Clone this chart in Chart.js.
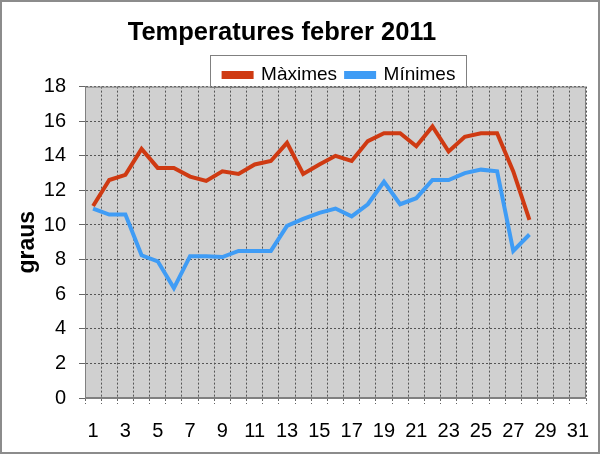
<!DOCTYPE html>
<html>
<head>
<meta charset="utf-8">
<script src="https://cdn.jsdelivr.net/npm/chart.js@4/dist/chart.umd.min.js"></script>
<style>
  body { margin: 0; background: #fff; }
  #wrap { width: 600px; height: 454px; }
</style>
</head>
<body>
<div id="wrap"><canvas id="temps"></canvas></div>
<script>
// dies del mes (eix X)
var dies = [];
for (var d = 1; d <= 31; d++) dies.push(String(d));

// temperatures llegides del gràfic
var maximes = [11.1, 12.6, 12.9, 14.4, 13.3, 13.3, 12.8, 12.55, 13.1, 12.95,
               13.5, 13.7, 14.75, 12.95, 13.5, 14.0, 13.7, 14.85, 15.3, 15.3,
               14.55, 15.7, 14.25, 15.1, 15.3, 15.3, 13.1, 10.3];
var minimes = [10.95, 10.6, 10.6, 8.25, 7.9, 6.35, 8.2, 8.2, 8.15, 8.5,
               8.5, 8.5, 9.95, 10.35, 10.7, 10.95, 10.5, 11.2, 12.5, 11.2,
               11.55, 12.6, 12.6, 13.0, 13.2, 13.1, 8.5, 9.45];

var yTicks = [0, 2, 4, 6, 8, 10, 12, 14, 16, 18];

var font = "'Liberation Sans', Arial, sans-serif";

// fons gris, marc del gràfic i caixa de la llegenda
var marcs = {
  id: 'marcs',
  afterLayout: function(chart) {
    var a = chart.chartArea;
    // títol una mica a l'esquerra, llegenda centrada sobre el gràfic
    var t = chart.titleBlock;
    var dt = (chart.width / 2 - 18) - (t.left + t.right) / 2;
    t.left += dt; t.right += dt;
    var lg = chart.legend;
    var dl = ((a.left + a.right) / 2 + 4) - (lg.left + lg.right) / 2;
    lg.left += dl; lg.right += dl;
    lg.top += 8; lg.bottom += 8;
  },
  beforeDraw: function(chart) {
    var c = chart.ctx, a = chart.chartArea;
    c.save();
    c.fillStyle = '#fff';
    c.fillRect(0, 0, chart.width, chart.height);
    c.fillStyle = '#d0d0d0';
    c.fillRect(a.left, a.top, a.right - a.left, a.bottom - a.top);
    c.restore();
  },
  afterDraw: function(chart) {
    var c = chart.ctx, a = chart.chartArea;
    c.save();
    c.strokeStyle = '#808080';
    c.lineWidth = 1;
    c.strokeRect(a.left + 0.5, a.top + 0.5, a.right - a.left - 1, a.bottom - a.top - 1);
    // caixa de la llegenda
    var lg = chart.legend, hb = lg.legendHitBoxes;
    if (hb && hb.length) {
      var lab = lg.options.labels;
      var x0 = hb[0].left - 14;
      var last = hb[hb.length - 1];
      var x1 = last.left + last.width + 10;
      var mid = lg.top + lab.padding + lab.font.size / 2;
      var y0 = mid - 20;
      c.strokeRect(Math.round(x0) + 0.5, Math.round(y0) + 0.5, Math.round(x1 - x0), Math.round(a.top - y0));
    }
    c.strokeStyle = '#8c8c8c';
    c.lineWidth = 2;
    c.strokeRect(1, 1, chart.width - 2, chart.height - 2);
    c.restore();
  }
};

new Chart(document.getElementById('temps'), {
  type: 'line',
  data: {
    labels: dies,
    datasets: [{
      label: 'Màximes',
      data: maximes,
      borderColor: '#cf3a12',
      backgroundColor: '#cf3a12',
      borderWidth: 4,
      pointRadius: 0,
      tension: 0
    }, {
      label: 'Mínimes',
      data: minimes,
      borderColor: '#3f9cf5',
      backgroundColor: '#3f9cf5',
      borderWidth: 4,
      pointRadius: 0,
      tension: 0
    }]
  },
  options: {
    responsive: true,
    maintainAspectRatio: false,
    animation: false,
    devicePixelRatio: 1,
    layout: { padding: { left: 0, right: 14, top: 0, bottom: 0 } },
    plugins: {
      title: {
        display: true,
        text: 'Temperatures febrer 2011',
        color: '#000',
        font: { family: font, size: 25.5, weight: 'bold' },
        padding: { top: 18, bottom: 0 }
      },
      legend: {
        display: true,
        labels: {
          color: '#000',
          font: { family: font, size: 19 },
          boxWidth: 28,
          boxHeight: 4,
          padding: 9
        }
      },
      tooltip: { enabled: false }
    },
    scales: {
      x: {
        type: 'category',
        offset: true,
        grid: {
          offset: true,
          color: '#555',
          lineWidth: 1,
          tickLength: 6,
          tickColor: '#666',
          tickBorderDash: [2, 2]
        },
        border: { color: '#808080', dash: [2, 2] },
        ticks: {
          autoSkip: false,
          maxRotation: 0,
          padding: 15,
          color: '#000',
          font: { family: font, size: 20 },
          callback: function(v, i) { return i % 2 === 0 ? dies[i] : ''; }
        },
        afterFit: function(s) { s.height = 56; s.paddingLeft = 0; s.paddingRight = 0; }
      },
      y: {
        min: 0,
        max: 18,
        afterBuildTicks: function(s) { s.ticks = yTicks.map(function(v) { return { value: v }; }); },
        grid: {
          color: '#555',
          lineWidth: 1,
          tickLength: 6,
          tickColor: '#666'
        },
        border: { color: '#808080', dash: [2, 2] },
        ticks: {
          padding: 13,
          color: '#000',
          font: { family: font, size: 20 }
        },
        title: {
          display: true,
          text: 'graus',
          color: '#000',
          font: { family: font, size: 23, weight: 'bold' },
          padding: { top: 14, bottom: 0 }
        },
        afterFit: function(s) { s.width = 85; }
      }
    }
  },
  plugins: [marcs]
});
</script>
</body>
</html>
